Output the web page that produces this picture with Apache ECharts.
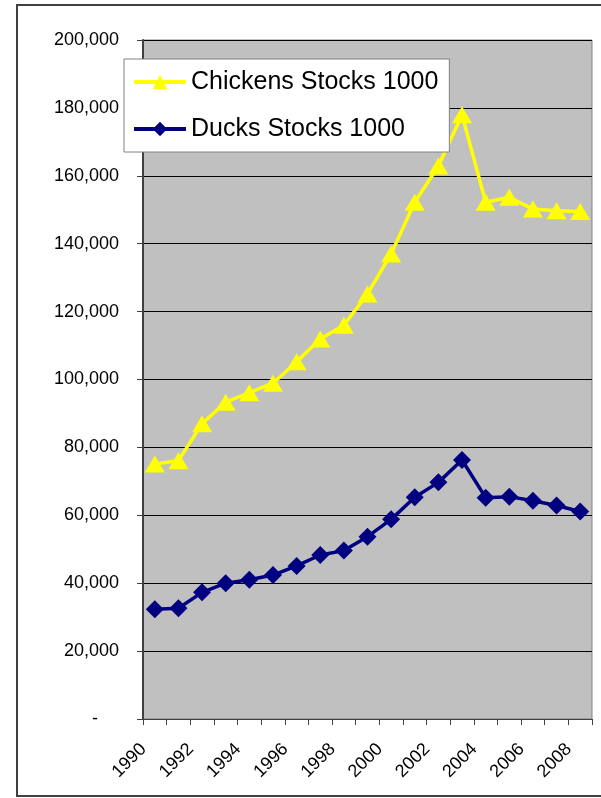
<!DOCTYPE html>
<html>
<head>
<meta charset="utf-8">
<script src="https://cdn.jsdelivr.net/npm/echarts@6/dist/echarts.min.js"></script>
<style>
html, body { margin: 0; padding: 0; background: #fff; }
#chart { width: 601px; height: 798px; }
</style>
</head>
<body>
<div id="chart"></div>
<script>
// values (stocks, in 1000 head)
var years = ['1990', '1991', '1992', '1993', '1994', '1995', '1996', '1997', '1998', '1999',
             '2000', '2001', '2002', '2003', '2004', '2005', '2006', '2007', '2008'];
var chickens = [75100, 76100, 87000, 93300, 96100, 98900, 105200, 111900, 116000, 125200,
                137000, 152200, 162900, 178000, 152200, 153700, 150200, 149700, 149500];
var ducks = [32300, 32600, 37300, 40000, 41000, 42400, 45100, 48300, 49600, 53700,
             58800, 65300, 69700, 76300, 65200, 65500, 64300, 62900, 61100];
var seriesNames = ['Chickens Stocks 1000', 'Ducks Stocks 1000'];

var chart = echarts.init(document.getElementById('chart'));

var font = 'Liberation Sans, Arial, sans-serif';

var option = {
    animation: false,
    backgroundColor: '#fff',
    textStyle: { fontFamily: font },
    graphic: [{
        type: 'rect',
        shape: { x: 17, y: 5, width: 600, height: 791 },
        style: { fill: 'none', stroke: '#404040', lineWidth: 2 },
        z: 100
    }],
    grid: {
        left: 143,
        right: 9,
        top: 40,
        bottom: 79,
        show: true,
        backgroundColor: '#c0c0c0',
        borderColor: '#808080',
        borderWidth: 1
    },
    legend: {
        orient: 'vertical',
        left: 124,
        top: 59,
        padding: [10, 11, 10, 8],
        itemGap: 21,
        itemWidth: 52,
        itemHeight: 18,
        backgroundColor: '#fff',
        borderColor: '#808080',
        borderWidth: 1,
        lineStyle: { width: 4 },
        textStyle: { fontFamily: font, fontSize: 25, lineHeight: 26, color: '#000' },
        data: seriesNames
    },
    xAxis: {
        type: 'category',
        data: years,
        boundaryGap: true,
        axisLine: { lineStyle: { color: '#404040', width: 1 } },
        axisTick: { show: true, interval: 0, length: 6, lineStyle: { color: '#404040' } },
        axisLabel: {
            interval: 1,
            rotate: 45,
            margin: 16,
            padding: [0, 16, 0, 0],
            fontFamily: font,
            fontSize: 18,
            color: '#000'
        },
        splitLine: { show: false }
    },
    yAxis: {
        type: 'value',
        min: 0,
        max: 200000,
        interval: 20000,
        axisLine: { show: true, lineStyle: { color: '#404040', width: 2 } },
        axisTick: { show: true, length: 6, lineStyle: { color: '#404040' } },
        axisLabel: {
            margin: 24,
            fontFamily: font,
            fontSize: 18,
            color: '#000',
            formatter: function (v) {
                if (v === 0) return '{z|-}';
                return v.toLocaleString('en-US');
            },
            rich: { z: { fontFamily: font, fontSize: 18, color: '#000', padding: [0, 21, 0, 0] } }
        },
        splitLine: { show: true, lineStyle: { color: '#000', width: 1 } }
    },
    series: [
        {
            name: seriesNames[0],
            type: 'line',
            data: chickens,
            symbol: 'triangle',
            symbolSize: [20, 17],
            showAllSymbol: true,
            itemStyle: { color: '#ffff00' },
            lineStyle: { color: '#ffff00', width: 3.5 },
            z: 3
        },
        {
            name: seriesNames[1],
            type: 'line',
            data: ducks,
            symbol: 'diamond',
            symbolSize: 18,
            showAllSymbol: true,
            itemStyle: { color: '#000080' },
            lineStyle: { color: '#000080', width: 3.5 },
            z: 3
        }
    ]
};

chart.setOption(option);
</script>
</body>
</html>
